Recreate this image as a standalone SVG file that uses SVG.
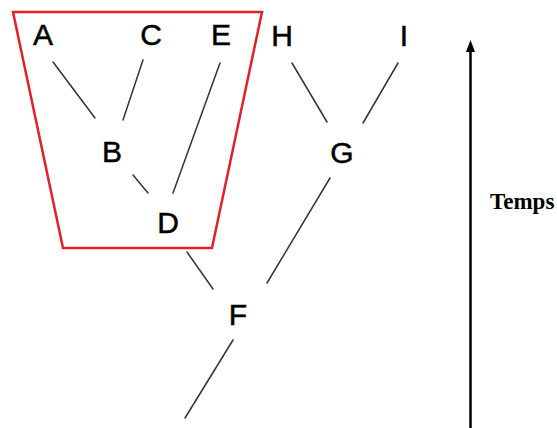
<svg xmlns="http://www.w3.org/2000/svg" width="557" height="428" viewBox="0 0 557 428">
<defs>
<style>
.lbl{font-family:"Liberation Sans",Arial,sans-serif;font-size:30px;fill:#000;stroke:#000;stroke-width:0.5;text-anchor:middle}
.edge{stroke:#333;stroke-width:1.5;fill:none;stroke-linecap:round}
.clade{fill:none;stroke:#e0202a;stroke-width:2.5}
.axis{stroke:#000;stroke-width:2.5;fill:none}
.tl{font-family:"Liberation Serif","Times New Roman",serif;font-weight:bold;font-size:23px;fill:#000}
</style>
</defs>
<rect width="557" height="428" fill="#fff"/>
<g id="edges">
<line class="edge" x1="53" y1="62" x2="95" y2="118"/>
<line class="edge" x1="143" y1="60" x2="123" y2="120"/>
<line class="edge" x1="220" y1="63" x2="173" y2="193"/>
<line class="edge" x1="133" y1="175" x2="148" y2="193"/>
<line class="edge" x1="187" y1="252" x2="213" y2="289"/>
<line class="edge" x1="292" y1="63" x2="327" y2="122"/>
<line class="edge" x1="398" y1="63" x2="363" y2="123"/>
<line class="edge" x1="330" y1="178" x2="267" y2="283"/>
<line class="edge" x1="233" y1="340" x2="185" y2="418"/>
</g>
<g id="clade"><polygon class="clade" points="13,12 262,12 212,248 63,248"/></g>
<g id="A"><text class="lbl" x="43" y="45">A</text></g>
<g id="C"><text class="lbl" x="151" y="45">C</text></g>
<g id="E"><text class="lbl" x="221" y="45">E</text></g>
<g id="H"><text class="lbl" x="282" y="46">H</text></g>
<g id="I"><text class="lbl" x="404" y="46">I</text></g>
<g id="B"><text class="lbl" x="112" y="162">B</text></g>
<g id="G"><text class="lbl" x="342" y="163">G</text></g>
<g id="D"><text class="lbl" x="168" y="233">D</text></g>
<g id="F"><text class="lbl" x="238" y="325">F</text></g>
<g id="time">
<line class="axis" x1="470.5" y1="428" x2="470.5" y2="50"/>
<polygon points="470.5,40 466,52 475,52" fill="#000"/>
<text class="tl" x="490" y="209">Temps</text>
</g>
</svg>
